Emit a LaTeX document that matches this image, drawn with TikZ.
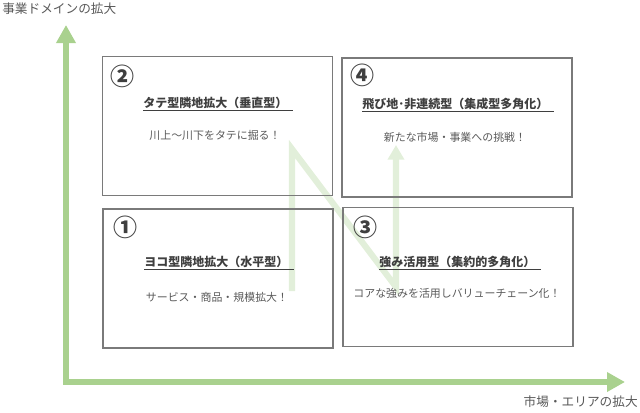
\documentclass[tikz,border=0pt]{standalone}
\usepackage{fontspec}
\setmainfont{Noto Sans CJK JP}
\usetikzlibrary{arrows.meta}
\definecolor{axisgreen}{HTML}{A9D18E}
\definecolor{pathgreen}{HTML}{E2EFDA}
\definecolor{boxgray}{HTML}{7A7A7A}
\definecolor{txtdark}{HTML}{3F3F3F}
\definecolor{txtgray}{HTML}{595959}
\newcommand{\ttl}[1]{$\underline{\hbox{#1\kern4pt}}$}
\begin{document}
\begin{tikzpicture}[x=0.75pt,y=-0.75pt,
  quad/.style={draw=boxgray,line width=1.1pt,minimum width=172.5pt,minimum height=104pt,inner sep=0pt},
  numlbl/.style={text=txtdark,font=\fontsize{18}{20}\selectfont\bfseries,inner sep=0pt},
  ttlbl/.style={text=txtdark,font=\fontsize{9}{11}\selectfont\bfseries,inner sep=0pt},
  sublbl/.style={text=txtgray,font=\fontsize{8.2}{10}\selectfont,inner sep=0pt},
  axlbl/.style={text=txtgray,font=\fontsize{9.5}{11}\selectfont,inner sep=0pt},
  axis/.style={draw=axisgreen,line width=4.5pt,{Triangle[width=14pt,length=13.5pt]}-{Triangle[width=14pt,length=13.5pt]}},
  npath/.style={draw=pathgreen,line width=4.6pt,-{Triangle[width=12pt,length=11pt]}}
]
\useasboundingbox (0,0) rectangle (640,412);
% axes
\coordinate (ytip) at (66,25);
\coordinate (origin) at (66,382);
\coordinate (xtip) at (625,382);
\draw[axis] (ytip) -- (origin) -- (xtip);
\node[axlbl,anchor=west] (ylab) at (2,9) {事業ドメインの拡大};
\node[axlbl,anchor=east] (xlab) at (638,402) {市場・エリアの拡大};
% N path
\coordinate (p1) at (292,291);
\coordinate (p2) at (292,149);
\coordinate (p3) at (396,287);
\coordinate (p4) at (396,145);
\draw[npath] (p1) -- (p2) -- (p3) -- (p4);
% boxes
\node[quad] (b2) at (217.5,126) {};
\node[quad] (b4) at (457,127.5) {};
\node[quad] (b1) at (218,278.5) {};
\node[quad] (b3) at (458,277) {};
% box 2
\node[numlbl] (n2) at (122,76) {②};
\node[ttlbl] (t2) at (218,104) {\ttl{タテ型隣地拡大（垂直型）}};
\node[sublbl] (s2) at (215,135) {川上～川下をタテに掘る！};
% box 4
\node[numlbl] (n4) at (362,75) {④};
\node[ttlbl] (t4) at (458,105) {\ttl{飛び地･非連続型（集成型多角化）}};
\node[sublbl] (s4) at (455,137) {新たな市場・事業への挑戦！};
% box 1
\node[numlbl] (n1) at (125,227) {①};
\node[ttlbl] (t1) at (219,263) {\ttl{ヨコ型隣地拡大（水平型）}};
\node[sublbl] (s1) at (217,297) {サービス・商品・規模拡大！};
% box 3
\node[numlbl] (n3) at (365,227) {③};
\node[ttlbl] (t3) at (460,263) {\ttl{強み活用型（集約的多角化）}};
\node[sublbl] (s3) at (457,293) {コアな強みを活用しバリューチェーン化！};
\end{tikzpicture}
\end{document}
